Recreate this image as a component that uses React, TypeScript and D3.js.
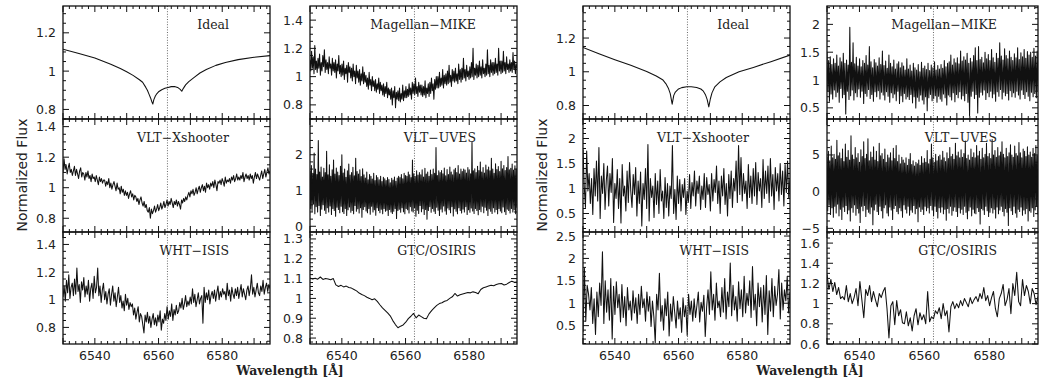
import React from "react";
import * as d3 from "d3";

const WAVE_MIN = 6530;
const WAVE_MAX = 6595;
const H_ALPHA = 6562.8;
const xTickLabels = [6540, 6560, 6580];

const panelTitles = ["Ideal", "Magellan\u2212MIKE", "VLT\u2212Xshooter", "VLT\u2212UVES", "WHT\u2212ISIS", "GTC/OSIRIS"];

// ---------- left group (higher S/N) ----------
const idealLeftWave = [6530, 6535, 6540, 6545, 6548, 6550, 6552, 6554, 6555, 6556, 6556.5, 6557, 6557.5, 6557.9, 6558.2, 6558.5, 6559, 6559.5, 6560, 6561, 6562, 6563, 6564, 6565, 6566, 6566.8, 6567.3, 6567.8, 6568.5, 6569.5, 6571, 6573, 6575, 6578, 6581, 6585, 6590, 6595];
const idealLeftFlux = [1.114, 1.092, 1.068, 1.036, 1.014, 0.997, 0.978, 0.955, 0.942, 0.915, 0.9, 0.88, 0.86, 0.84, 0.828, 0.85, 0.87, 0.883, 0.892, 0.903, 0.91, 0.915, 0.919, 0.92, 0.915, 0.905, 0.895, 0.91, 0.928, 0.945, 0.965, 0.99, 1.008, 1.03, 1.045, 1.06, 1.072, 1.081];

const mikeLeftFlux = [
  1.12, 1.04, 1.18, 1.06, 1.14, 1.02, 1.22, 1.05, 1.11, 1.03,
  1.13, 1.06, 1.16, 1.01, 1.1, 1.04, 1.15, 1.07, 1.19, 1.03,
  1.12, 1.05, 1.1, 1.02, 1.14, 1.06, 1.09, 1.01, 1.13, 1.04,
  1.1, 1.03, 1.12, 0.99, 1.09, 1.04, 1.15, 1.02, 1.08, 1.0,
  1.09, 1.01, 1.11, 0.98, 1.06, 1.02, 1.08, 0.96, 1.1, 1.03,
  1.07, 0.99, 1.06, 0.97, 1.09, 1.0, 1.04, 0.95, 1.08, 0.99,
  1.04, 0.96, 1.05, 0.94, 1.02, 0.97, 1.07, 0.95, 1.03, 0.96,
  1.01, 0.93, 0.99, 0.91, 1.03, 0.94, 0.98, 0.9, 1.0, 0.93,
  0.97, 0.9, 0.98, 0.89, 0.95, 0.91, 0.99, 0.88, 0.96, 0.9,
  0.94, 0.87, 0.95, 0.86, 0.93, 0.88, 0.96, 0.85, 0.92, 0.87,
  0.91, 0.84, 0.92, 0.8, 0.9, 0.85, 0.93, 0.78, 0.89, 0.84,
  0.9, 0.83, 0.92, 0.82, 0.88, 0.84, 0.94, 0.83, 0.9, 0.85,
  0.93, 0.85, 0.91, 0.86, 0.95, 0.87, 0.92, 0.84, 0.96, 0.88,
  0.95, 0.87, 0.99, 0.88, 0.93, 0.86, 0.96, 0.89, 0.94, 0.87,
  0.94, 0.86, 0.93, 0.87, 0.97, 0.85, 0.92, 0.88, 0.95, 0.86,
  0.96, 0.88, 0.99, 0.9, 0.95, 0.84, 0.98, 0.91, 1.0, 0.92,
  1.0, 0.92, 1.03, 0.93, 0.99, 0.94, 1.05, 0.92, 1.01, 0.95,
  1.02, 0.94, 1.04, 0.95, 1.08, 0.96, 1.01, 0.93, 1.05, 0.97,
  1.04, 0.96, 1.06, 0.97, 1.02, 0.95, 1.09, 0.98, 1.05, 0.96,
  1.06, 0.98, 1.13, 0.99, 1.05, 0.97, 1.08, 1.0, 1.04, 0.98,
  1.07, 0.99, 1.1, 1.0, 1.2, 0.98, 1.06, 1.01, 1.09, 0.99,
  1.08, 1.0, 1.11, 1.01, 1.07, 0.99, 1.12, 1.02, 1.06, 1.0,
  1.09, 1.01, 1.19, 1.02, 1.08, 1.0, 1.12, 1.03, 1.1, 1.01,
  1.1, 1.02, 1.13, 1.03, 1.09, 1.01, 1.2, 1.04, 1.11, 1.02,
  1.11, 1.03, 1.18, 1.04, 1.1, 1.02, 1.14, 1.05, 1.09, 1.03,
  1.12, 1.04, 1.1, 1.03, 1.17, 1.05, 1.11, 1.02, 1.09, 1.06,
];

const xshooterLeftFlux = [
  1.1, 1.19, 1.12, 1.15, 1.09, 1.13, 1.16, 1.1, 1.12, 1.08,
  1.11, 1.14, 1.08, 1.12, 1.09, 1.06, 1.11, 1.13, 1.07, 1.1,
  1.09, 1.05, 1.1, 1.07, 1.11, 1.06, 1.08, 1.04, 1.09, 1.06,
  1.07, 1.04, 1.08, 1.05, 1.02, 1.07, 1.04, 1.06, 1.03, 1.05,
  1.05, 1.01, 1.04, 1.02, 1.06, 1.0, 1.03, 0.99, 1.02, 1.04,
  1.01, 0.98, 1.03, 0.99, 1.0, 0.96, 1.01, 0.97, 0.99, 0.95,
  0.98, 0.95, 0.97, 0.93, 0.96, 0.98, 0.94, 0.96, 0.92, 0.95,
  0.94, 0.91, 0.93, 0.89, 0.92, 0.94, 0.9, 0.88, 0.91, 0.87,
  0.89, 0.85, 0.84, 0.87, 0.8, 0.86, 0.83, 0.85, 0.88, 0.84,
  0.86, 0.89, 0.85, 0.87, 0.9, 0.86, 0.88, 0.91, 0.87, 0.89,
  0.92, 0.88, 0.91, 0.89, 0.93, 0.9, 0.87, 0.91, 0.89, 0.92,
  0.88, 0.91, 0.89, 0.86, 0.92, 0.9, 0.93, 0.91, 0.94, 0.92,
  0.95, 0.97, 0.94, 0.98, 0.96, 0.99, 0.95, 0.97, 1.0, 0.96,
  0.99, 1.01, 0.97, 1.0, 1.02, 0.98, 1.01, 0.97, 1.03, 1.0,
  1.02, 0.99, 1.03, 1.01, 1.04, 1.0, 1.05, 1.02, 0.98, 1.04,
  1.03, 1.05, 1.02, 1.06, 1.04, 1.01, 1.07, 1.03, 1.05, 1.04,
  1.06, 1.03, 1.07, 1.05, 1.08, 1.04, 1.06, 1.09, 1.05, 1.07,
  1.05, 1.08, 1.06, 1.1, 1.04, 1.07, 1.09, 1.06, 1.08, 1.05,
  1.09, 1.06, 1.08, 1.03, 1.07, 1.1, 1.06, 1.09, 1.07, 1.05,
  1.08, 1.11, 1.06, 1.09, 1.12, 1.07, 1.1, 1.13, 1.09, 1.11,
];

const uvesLeftFlux = [
  1.55, 0.5, 1.7, 0.42, 1.48, 0.62, 2.05, 0.35, 1.6, 0.55,
  1.45, 0.4, 2.4, 0.58, 1.52, 0.3, 1.66, 0.48, 1.38, 0.6,
  1.62, 0.45, 1.5, 0.36, 2.1, 0.52, 1.44, 0.4, 1.72, 0.57,
  1.4, 0.33, 1.58, 0.5, 1.85, 0.44, 1.46, 0.28, 1.63, 0.53,
  1.52, 0.47, 1.42, 0.38, 1.68, 0.56, 2.0, 0.41, 1.49, 0.36,
  1.6, 0.5, 1.37, 0.3, 1.55, 0.46, 1.74, 0.54, 1.43, 0.39,
  1.5, 0.44, 1.65, 0.35, 1.41, 0.58, 1.9, 0.42, 1.53, 0.49,
  1.46, 0.37, 1.58, 0.52, 1.39, 0.25, 1.61, 0.47, 1.44, 0.55,
  1.35, 0.43, 1.52, 0.38, 1.3, 0.5, 1.45, 0.34, 1.4, 0.56,
  1.32, 0.4, 1.48, 0.46, 1.28, 0.31, 1.42, 0.52, 1.36, 0.44,
  1.3, 0.38, 1.4, 0.48, 1.25, 0.35, 1.37, 0.5, 1.33, 0.42,
  1.28, 0.45, 1.36, 0.3, 1.31, 0.47, 1.22, 0.4, 1.34, 0.36,
  1.29, 0.42, 1.38, 0.5, 1.26, 0.22, 1.35, 0.44, 1.4, 0.48,
  1.36, 0.39, 1.45, 0.52, 1.33, 0.41, 1.48, 0.35, 1.42, 0.5,
  1.4, 0.46, 1.52, 0.37, 1.44, 0.55, 1.36, 0.43, 1.85, 0.4,
  1.47, 0.52, 1.39, 0.28, 1.55, 0.45, 1.43, 0.36, 1.5, 0.58,
  1.44, 0.41, 1.58, 0.49, 1.38, 0.33, 1.62, 0.47, 1.46, 0.2,
  1.52, 0.44, 1.4, 0.55, 1.57, 0.39, 1.45, 0.5, 1.6, 0.42,
  1.48, 0.36, 2.2, 0.53, 1.42, 0.45, 1.55, 0.3, 1.5, 0.48,
  1.56, 0.4, 1.47, 0.57, 1.63, 0.43, 1.41, 0.34, 1.59, 0.51,
  1.45, 0.46, 1.66, 0.38, 1.52, 0.55, 1.44, 0.29, 1.58, 0.49,
  1.62, 0.42, 1.5, 0.35, 1.7, 0.52, 1.46, 0.44, 1.6, 0.37,
  1.53, 0.48, 1.6, 0.4, 1.57, 0.55, 1.49, 0.33, 1.64, 0.46,
  1.58, 0.39, 1.47, 0.51, 2.35, 0.43, 1.55, 0.36, 1.61, 0.5,
  1.5, 0.44, 1.68, 0.32, 1.56, 0.47, 1.8, 0.41, 1.52, 0.56,
  1.64, 0.38, 1.49, 0.53, 1.71, 0.45, 1.58, 0.3, 1.66, 0.49,
  1.55, 0.42, 1.9, 0.36, 1.6, 0.52, 1.48, 0.4, 1.75, 0.47,
  1.59, 0.35, 1.67, 0.5, 1.53, 0.43, 1.82, 0.38, 1.61, 0.54,
  1.7, 0.41, 1.56, 0.33, 1.64, 0.48, 1.95, 0.44, 1.58, 0.37,
  1.62, 0.5, 1.74, 0.4, 1.57, 0.46, 1.69, 0.35, 1.6, 0.52,
];

const whtLeftFlux = [
  1.02, 1.1, 0.99, 1.14, 1.05, 1.18, 1.01, 1.09, 1.12, 1.03,
  1.15, 1.04, 1.23, 1.06, 1.11, 0.98, 1.13, 1.07, 1.16, 1.02,
  1.1, 1.04, 1.14, 0.99, 1.08, 1.12, 1.01, 1.17, 1.05, 1.09,
  1.23, 1.03, 1.1, 0.98, 1.07, 1.12, 1.0, 1.06, 0.97, 1.04,
  1.08, 0.96, 1.04, 1.1, 0.99, 1.05, 0.95, 1.02, 1.09, 0.98,
  1.03, 0.94, 0.99, 0.92, 1.04, 0.96, 1.01, 0.93, 0.98, 0.95,
  0.97, 0.89, 0.94, 0.86, 0.91, 0.95, 0.84, 0.9, 0.88, 0.82,
  0.76, 0.89, 0.84, 0.91, 0.83, 0.88, 0.8, 0.86, 0.9, 0.82,
  0.87, 0.81, 0.89, 0.84, 0.92, 0.78, 0.86, 0.83, 0.9, 0.85,
  0.95, 0.86, 0.92, 0.88, 0.97, 0.85, 0.93, 0.89, 0.96, 0.9,
  0.92, 0.98, 0.94, 1.01, 0.93, 0.97, 1.03, 0.95, 0.99, 0.96,
  1.02, 0.97, 1.08, 0.98, 1.04, 0.95, 1.0, 1.05, 0.97, 1.01,
  1.03, 0.83, 1.09, 0.98, 1.05, 1.0, 1.07, 0.97, 1.03, 1.06,
  1.01, 1.07, 0.99, 1.05, 1.1, 1.0, 1.06, 1.02, 1.08, 1.04,
  1.06, 1.0, 1.12, 1.03, 1.07, 0.99, 1.09, 1.04, 1.01, 1.08,
  1.03, 1.09, 1.01, 1.06, 1.11, 1.02, 1.08, 1.04, 1.0, 1.07,
  1.1, 1.03, 1.08, 1.18, 1.04, 1.09, 1.02, 1.07, 1.12, 1.05,
  1.03, 1.1, 1.06, 1.14, 1.04, 1.09, 1.12, 1.06, 1.11, 1.08,
];

const gtcLeftFlux = [
  1.103, 1.098, 1.102, 1.097, 1.108, 1.096, 1.1, 1.098, 1.094, 1.1,
  1.068, 1.06, 1.066, 1.058, 1.062, 1.055, 1.052, 1.045, 1.038, 1.027,
  1.02, 1.014, 1.006, 1.0, 0.993, 0.998, 0.985, 0.968, 0.952, 0.94,
  0.927, 0.912, 0.888, 0.868, 0.852, 0.86, 0.866, 0.88, 0.898, 0.91,
  0.924, 0.902, 0.916, 0.908, 0.9, 0.897, 0.922, 0.938, 0.952, 0.965,
  0.974, 0.978, 0.986, 0.99, 1.0, 1.008, 1.025, 1.012, 1.018, 1.022,
  1.026, 1.03, 1.028, 1.033, 1.03, 1.024, 1.045, 1.054, 1.058, 1.062,
  1.066, 1.064, 1.07, 1.074, 1.075, 1.068, 1.072, 1.08, 1.087, 1.082,
  1.083,
];

// ---------- right group (lower S/N) ----------
const idealRightWave = [6530, 6535, 6540, 6545, 6550, 6553, 6555, 6556, 6556.8, 6557.4, 6558, 6558.5, 6559, 6560, 6561, 6562.6, 6564, 6565.7, 6567, 6567.8, 6568.5, 6569, 6569.5, 6570, 6570.5, 6571.4, 6573, 6575, 6579, 6583.5, 6589, 6595];
const idealRightFlux = [1.144, 1.107, 1.072, 1.038, 1.002, 0.975, 0.953, 0.93, 0.903, 0.87, 0.808, 0.86, 0.88, 0.898, 0.906, 0.911, 0.911, 0.907, 0.898, 0.885, 0.862, 0.835, 0.792, 0.84, 0.875, 0.911, 0.94, 0.966, 1.0, 1.026, 1.06, 1.099];

const mikeRightFlux = [
  1.5, 0.8, 1.35, 0.62, 1.42, 0.75, 1.28, 0.66, 1.38, 0.82,
  1.3, 0.7, 1.45, 0.78, 1.25, 0.6, 1.4, 0.85, 1.33, 0.68,
  1.48, 0.74, 1.3, 0.39, 1.36, 0.8, 1.27, 0.65, 1.95, 0.72,
  1.32, 0.82, 1.67, 0.64, 1.29, 0.77, 1.41, 0.7, 1.25, 0.84,
  1.38, 0.69, 1.24, 0.8, 1.35, 0.58, 1.3, 0.76, 1.44, 0.71,
  1.27, 0.83, 1.6, 0.67, 1.33, 0.74, 1.22, 0.62, 1.37, 0.79,
  1.31, 0.7, 1.25, 0.81, 1.4, 0.66, 1.28, 0.78, 1.52, 0.73,
  1.26, 0.64, 1.34, 0.79, 1.21, 0.71, 1.45, 0.6, 1.3, 0.77,
  1.24, 0.68, 1.36, 0.75, 1.2, 0.63, 1.29, 0.8, 1.33, 0.58,
  1.22, 0.72, 1.31, 0.61, 1.25, 0.76, 1.18, 0.66, 1.38, 0.7,
  1.2, 0.65, 1.27, 0.74, 1.16, 0.59, 1.3, 0.7, 1.22, 0.5,
  1.18, 0.69, 1.28, 0.62, 1.15, 0.73, 1.32, 0.64, 1.21, 0.57,
  1.25, 0.7, 1.19, 0.45, 1.3, 0.68, 1.17, 0.74, 1.27, 0.63,
  1.22, 0.67, 1.33, 0.72, 1.18, 0.6, 1.26, 0.71, 1.2, 0.66,
  1.28, 0.62, 1.21, 0.75, 1.35, 0.68, 1.24, 0.55, 1.3, 0.73,
  1.33, 0.7, 1.45, 0.64, 1.27, 0.77, 1.38, 0.61, 1.31, 0.74,
  1.4, 0.68, 1.29, 0.79, 1.52, 0.66, 1.34, 0.72, 1.42, 0.63,
  1.36, 0.76, 1.48, 0.6, 1.3, 0.36, 1.39, 0.71, 1.33, 0.8,
  1.44, 0.67, 1.58, 0.74, 1.35, 0.41, 1.6, 0.69, 1.37, 0.78,
  1.41, 0.73, 1.31, 0.82, 1.5, 0.65, 1.38, 0.77, 1.46, 0.7,
  1.35, 0.8, 1.55, 0.68, 1.4, 0.75, 1.32, 0.62, 1.48, 0.79,
  1.39, 0.71, 1.67, 0.83, 1.43, 0.66, 1.36, 0.78, 1.56, 0.72,
  1.44, 0.76, 1.38, 0.64, 1.52, 0.81, 1.41, 0.7, 1.35, 0.77,
  1.47, 0.69, 1.4, 0.8, 1.58, 0.73, 1.37, 0.66, 1.49, 0.82,
  1.42, 0.74, 1.55, 0.67, 1.39, 0.79, 1.51, 0.71, 1.45, 0.63,
  1.5, 0.78, 1.41, 0.7, 1.57, 0.76, 1.43, 0.68, 1.52, 0.8,
];

const xshooterRightFlux = [
  1.78, 1.05, 0.62, 1.75, 0.95, 1.3, 0.7, 1.2, 0.48, 1.4,
  0.85, 1.55, 0.75, 1.82, 0.4, 1.25, 0.9, 1.5, 0.58, 1.15,
  1.45, 0.65, 1.3, 0.92, 1.6, 0.32, 1.1, 0.8, 1.38, 0.6,
  1.2, 0.31, 1.48, 0.85, 1.05, 0.55, 1.35, 0.72, 1.52, 0.95,
  0.62, 1.28, 0.88, 1.42, 0.45, 1.15, 0.7, 1.33, 0.25, 1.1,
  0.78, 1.4, 0.6, 1.88, 0.35, 1.2, 0.82, 1.05, 0.42, 1.3,
  0.68, 1.15, 0.5, 1.38, 0.75, 0.95, 0.4, 1.22, 0.62, 1.1,
  0.45, 1.05, 0.8, 1.86, 0.5, 0.98, 0.38, 1.25, 0.7, 1.18,
  0.55, 1.08, 0.82, 1.2, 0.48, 0.95, 0.72, 1.28, 0.6, 1.12,
  0.85, 1.35, 0.65, 1.15, 0.9, 1.25, 0.58, 1.05, 0.78, 1.3,
  0.62, 1.22, 0.88, 1.08, 0.55, 1.3, 0.75, 1.18, 0.92, 1.45,
  0.7, 1.15, 0.5, 1.25, 0.85, 1.4, 0.68, 1.1, 0.45, 1.28,
  0.8, 1.35, 0.62, 1.2, 0.95, 1.55, 0.72, 1.86, 0.88, 1.62,
  0.75, 1.3, 0.9, 1.15, 0.6, 1.48, 0.82, 1.25, 0.7, 1.4,
  0.85, 1.52, 0.68, 1.32, 0.95, 1.2, 0.62, 1.58, 0.8, 1.35,
  0.9, 1.45, 0.72, 1.6, 0.85, 1.28, 0.58, 1.42, 0.95, 1.3,
  0.75, 1.5, 0.88, 1.35, 0.65, 1.48, 0.92, 1.55, 0.8, 1.2,
];

const uvesRightFlux = [
  4.8, -2.6, 5.5, -1.8, 4.2, -3.1, 6.2, -2.2, 4.6, -3.5,
  5.1, -2.0, 4.4, -2.9, 7.0, -1.7, 4.9, -3.3, 5.3, -2.4,
  4.5, -3.8, 5.8, -2.1, 4.1, -2.7, 6.5, -1.9, 4.7, -3.0,
  5.6, -2.5, 4.3, -4.0, 7.6, -2.2, 5.0, -2.8, 4.4, -1.8,
  6.0, -3.2, 4.6, -2.3, 5.2, -2.9, 4.0, -4.2, 5.7, -2.0,
  4.8, -2.6, 6.8, -1.9, 4.5, -3.4, 5.1, -2.4, 7.2, -2.8,
  4.2, -3.0, 5.4, -2.1, 4.7, -4.5, 6.1, -2.5, 4.3, -1.7,
  5.5, -2.7, 4.1, -3.1, 6.6, -2.0, 4.9, -2.6, 5.2, -3.6,
  4.4, -2.2, 5.8, -1.8, 4.0, -2.9, 5.0, -3.3, 4.6, -2.1,
  5.3, -2.5, 4.2, -3.8, 5.9, -2.3, 4.5, -1.9, 6.3, -2.7,
  4.1, -3.0, 5.0, -2.2, 3.8, -2.6, 4.7, -3.5, 4.3, -1.8,
  3.9, -2.4, 4.6, -2.9, 3.6, -2.0, 4.4, -3.2, 5.2, -2.5,
  3.7, -2.8, 4.2, -1.9, 3.5, -3.0, 4.0, -2.3, 3.8, -4.1,
  4.3, -2.1, 3.6, -2.7, 4.8, -2.4, 3.9, -3.1, 4.5, -2.0,
  4.0, -2.6, 5.6, -2.2, 3.8, -2.9, 4.4, -1.9, 6.5, -2.5,
  4.6, -3.3, 4.0, -2.0, 5.1, -2.7, 4.2, -3.6, 4.8, -2.2,
  5.0, -2.8, 4.3, -2.1, 5.5, -3.0, 4.6, -2.4, 4.1, -3.9,
  5.3, -2.3, 4.5, -2.9, 6.0, -2.0, 4.8, -3.2, 5.1, -2.6,
  4.4, -2.1, 6.6, -2.7, 4.9, -3.4, 5.4, -2.2, 4.6, -2.9,
  5.7, -2.4, 4.7, -3.1, 5.2, -2.0, 6.9, -2.8, 4.5, -3.7,
  5.0, -2.6, 4.3, -2.1, 5.8, -3.3, 4.7, -2.4, 5.3, -2.9,
  4.6, -3.0, 6.3, -2.2, 4.9, -2.7, 5.5, -4.4, 4.4, -2.3,
  5.9, -2.5, 4.6, -3.1, 5.1, -2.0, 6.6, -2.6, 4.8, -3.4,
  5.2, -2.8, 4.5, -2.2, 7.1, -2.9, 5.0, -2.4, 5.6, -3.6,
  4.7, -2.1, 6.0, -3.0, 4.9, -2.5, 5.4, -2.0, 6.8, -2.7,
  5.1, -3.3, 4.6, -2.3, 5.9, -2.8, 4.8, -4.6, 5.3, -2.2,
  6.4, -2.6, 5.0, -3.1, 4.7, -2.0, 6.2, -2.9, 5.2, -3.5,
  4.9, -2.4, 6.7, -2.7, 5.3, -2.1, 4.6, -3.2, 5.8, -2.5,
  5.5, -3.0, 4.8, -2.3, 6.1, -4.0, 5.0, -2.6, 5.4, -2.8,
  4.7, -2.2, 5.9, -3.4, 5.2, -2.5, 6.3, -2.0, 4.9, -3.1,
];

const whtRightFlux = [
  0.35, 1.78, 0.6, 1.4, 1.2, 0.85, 1.35, 0.55, 1.1, 0.3,
  1.25, 0.7, 1.45, 0.95, 2.15, 0.55, 1.5, 0.8, 1.3, 0.62,
  1.55, 0.2, 1.38, 0.75, 1.48, 0.9, 1.2, 0.58, 1.42, 0.68,
  1.15, 0.5, 1.35, 0.85, 1.05, 0.62, 1.28, 0.78, 1.12, 0.55,
  1.2, 0.75, 1.38, 0.9, 1.1, 0.6, 1.25, 0.82, 1.15, 0.48,
  1.05, 0.7, 0.12, 1.2, 0.85, 1.67, 0.6, 0.95, 0.4, 1.1,
  0.72, 1.25, 0.27, 0.98, 0.6, 1.15, 0.8, 0.45, 1.05, 0.65,
  0.9, 0.35, 1.12, 0.7, 0.95, 0.28, 1.2, 0.75, 1.05, 0.6,
  1.1, 0.68, 0.95, 1.25, 0.58, 1.02, 0.82, 1.18, 0.26, 0.92,
  1.3, 0.75, 1.7, 0.85, 1.2, 0.62, 1.45, 0.9, 1.05, 0.7,
  1.35, 0.8, 1.55, 0.65, 1.25, 0.92, 1.9, 0.72, 1.4, 0.85,
  1.15, 0.6, 1.48, 0.88, 1.3, 0.7, 1.6, 0.78, 1.22, 0.95,
  1.5, 0.68, 1.82, 0.85, 1.2, 0.5, 1.45, 0.92, 1.35, 0.58,
  1.4, 0.75, 1.62, 0.3, 1.28, 0.82, 1.55, 0.7, 1.38, 0.95,
  1.2, 1.75, 0.65, 1.45, 0.85, 1.3, 1.05, 1.6, 0.78, 1.25,
];

const gtcRightFlux = [
  1.29, 1.14, 1.24, 1.12, 1.21, 1.09, 1.16, 1.05, 1.07, 1.04,
  1.18, 1.02, 1.1, 1.0, 1.06, 1.15, 0.98, 1.22, 1.04, 0.86,
  1.14, 1.08, 1.18, 1.02, 1.12, 1.04, 0.97, 1.1, 1.06, 1.12,
  1.16, 0.95, 0.66, 0.98, 1.02, 0.79, 1.03, 0.88, 0.94, 0.81,
  0.8, 0.92, 0.78, 0.86, 0.73, 0.88, 0.95, 0.79, 0.91, 0.84,
  0.89, 0.8, 1.12, 0.82, 0.87, 0.85, 0.93, 0.9, 0.96, 0.85,
  1.0, 0.88, 0.93, 0.72, 0.97, 1.02, 0.95, 1.0, 0.96, 1.03,
  0.98, 1.05, 1.01, 0.97, 1.06, 1.0, 1.04, 1.07, 1.02, 1.1,
  1.05, 1.16, 1.03, 1.08, 0.98, 1.06, 1.12, 0.95, 0.87, 1.05,
  1.1, 1.19, 0.98, 1.04, 1.15, 0.9, 1.2, 1.08, 1.31, 1.02,
  0.98, 1.24, 1.08, 1.18, 1.12, 1.0, 1.15, 1.1, 0.99, 1.07,
];

// ---------- layout ----------
const COLS: [number, number][] = [[63, 270], [310, 517], [583, 790], [827, 1038]];
const ROWS: [number, number][] = [[6, 119], [119, 232], [232, 344]];

type Panel = {
  title: string;
  col: number;
  row: number;
  wave?: number[];
  flux: number[];
  yDomain: [number, number];
  yTicks: number[];
  yMinorStep: number;
};

const fmtTick = (v: number) => (v < 0 ? "\u2212" + Math.abs(v) : String(+v.toFixed(2)));

const panels: Panel[] = [
  { title: panelTitles[0], col: 0, row: 0, wave: idealLeftWave, flux: idealLeftFlux, yDomain: [0.75, 1.34], yTicks: [0.8, 1, 1.2], yMinorStep: 0.05 },
  { title: panelTitles[1], col: 1, row: 0, flux: mikeLeftFlux, yDomain: [0.7, 1.5], yTicks: [0.8, 1, 1.2, 1.4], yMinorStep: 0.05 },
  { title: panelTitles[2], col: 0, row: 1, flux: xshooterLeftFlux, yDomain: [0.71, 1.45], yTicks: [0.8, 1, 1.2, 1.4], yMinorStep: 0.05 },
  { title: panelTitles[3], col: 1, row: 1, flux: uvesLeftFlux, yDomain: [-0.16, 3.0], yTicks: [0, 1, 2], yMinorStep: 0.2 },
  { title: panelTitles[4], col: 0, row: 2, flux: whtLeftFlux, yDomain: [0.68, 1.49], yTicks: [0.8, 1, 1.2, 1.4], yMinorStep: 0.05 },
  { title: panelTitles[5], col: 1, row: 2, flux: gtcLeftFlux, yDomain: [0.77, 1.335], yTicks: [0.8, 0.9, 1, 1.1, 1.2, 1.3], yMinorStep: 0.02 },
  { title: panelTitles[0], col: 2, row: 0, wave: idealRightWave, flux: idealRightFlux, yDomain: [0.72, 1.39], yTicks: [0.8, 1, 1.2], yMinorStep: 0.05 },
  { title: panelTitles[1], col: 3, row: 0, flux: mikeRightFlux, yDomain: [0.3, 2.33], yTicks: [0.5, 1, 1.5, 2], yMinorStep: 0.1 },
  { title: panelTitles[2], col: 2, row: 1, flux: xshooterRightFlux, yDomain: [0.13, 2.39], yTicks: [0.5, 1, 1.5, 2], yMinorStep: 0.1 },
  { title: panelTitles[3], col: 3, row: 1, flux: uvesRightFlux, yDomain: [-5.5, 9.9], yTicks: [-5, 0, 5], yMinorStep: 1 },
  { title: panelTitles[4], col: 2, row: 2, flux: whtRightFlux, yDomain: [0.09, 2.59], yTicks: [0.5, 1, 1.5, 2, 2.5], yMinorStep: 0.1 },
  { title: panelTitles[5], col: 3, row: 2, flux: gtcRightFlux, yDomain: [0.6, 1.71], yTicks: [0.6, 0.8, 1, 1.2, 1.4, 1.6], yMinorStep: 0.05 },
];

const TICK_FONT = "'DejaVu Sans', sans-serif";
const SERIF = "'DejaVu Serif', serif";

function PanelView({ p, idx }: { p: Panel; idx: number }) {
  const [x0, x1] = COLS[p.col];
  const [y0, y1] = ROWS[p.row];
  const x = d3.scaleLinear().domain([WAVE_MIN, WAVE_MAX]).range([x0, x1]);
  const y = d3.scaleLinear().domain(p.yDomain).range([y1, y0]);
  const n = p.flux.length;
  const wave = p.wave ?? p.flux.map((_, i) => WAVE_MIN + (i * (WAVE_MAX - WAVE_MIN)) / (n - 1));
  const line = d3
    .line<number>()
    .x((_, i) => x(wave[i]))
    .y((d) => y(d));
  const clipId = `clip-${idx}`;

  const xMajor = d3.range(6530, 6596, 10);
  const xMinor = d3.range(6530, 6596, 2).filter((v) => v % 10 !== 0);
  const yMinor = d3
    .range(Math.ceil(p.yDomain[0] / p.yMinorStep) * p.yMinorStep, p.yDomain[1], p.yMinorStep)
    .filter((v) => !p.yTicks.some((t) => Math.abs(t - v) < 1e-6));
  const MAJ = 6;
  const MIN = 3;

  return (
    <g>
      <defs>
        <clipPath id={clipId}>
          <rect x={x0} y={y0} width={x1 - x0} height={y1 - y0} />
        </clipPath>
      </defs>
      <line x1={x(H_ALPHA)} x2={x(H_ALPHA)} y1={y0} y2={y1} stroke="#444" strokeWidth={0.8} strokeDasharray="1,1.6" />
      <path d={line(p.flux) ?? ""} fill="none" stroke="#111" strokeWidth={1.05} strokeLinejoin="round" clipPath={`url(#${clipId})`} />
      <g stroke="#111" strokeWidth={1}>
        {xMajor.map((v) => (
          <g key={"xM" + v}>
            <line x1={x(v)} x2={x(v)} y1={y1} y2={y1 - MAJ} />
            <line x1={x(v)} x2={x(v)} y1={y0} y2={y0 + MAJ} />
          </g>
        ))}
        {xMinor.map((v) => (
          <g key={"xm" + v}>
            <line x1={x(v)} x2={x(v)} y1={y1} y2={y1 - MIN} />
            <line x1={x(v)} x2={x(v)} y1={y0} y2={y0 + MIN} />
          </g>
        ))}
        {p.yTicks.map((v) => (
          <g key={"yM" + v}>
            <line x1={x0} x2={x0 + MAJ} y1={y(v)} y2={y(v)} />
            <line x1={x1} x2={x1 - MAJ} y1={y(v)} y2={y(v)} />
          </g>
        ))}
        {yMinor.map((v) => (
          <g key={"ym" + v}>
            <line x1={x0} x2={x0 + MIN} y1={y(v)} y2={y(v)} />
            <line x1={x1} x2={x1 - MIN} y1={y(v)} y2={y(v)} />
          </g>
        ))}
      </g>
      <rect x={x0} y={y0} width={x1 - x0} height={y1 - y0} fill="none" stroke="#111" strokeWidth={1.3} />
      {p.yTicks.map((v) => (
        <text key={"yl" + v} x={x0 - 7} y={y(v)} dy="0.36em" textAnchor="end" fontFamily={TICK_FONT} fontSize={12.5} fill="#222">
          {fmtTick(v)}
        </text>
      ))}
      {p.row === 2 &&
        xTickLabels.map((v) => (
          <text key={"xl" + v} x={x(v)} y={y1 + 16} textAnchor="middle" fontFamily={TICK_FONT} fontSize={12.5} fill="#222">
            {v}
          </text>
        ))}
      <text x={x1 - 41} y={y0 + 22.5} textAnchor="end" fontFamily={SERIF} fontSize={12.5} fill="#222">
        {p.title}
      </text>
    </g>
  );
}

export default function App() {
  return (
    <svg width={1040} height={385} style={{ position: "absolute", left: 0, top: 0, background: "#fff" }}>
      <rect x={0} y={0} width={1040} height={385} fill="#fff" />
      {panels.map((p, i) => (
        <PanelView key={i} p={p} idx={i} />
      ))}
      {[22, 542].map((cx) => (
        <text key={"yt" + cx} transform={`translate(${cx},175) rotate(-90)`} textAnchor="middle" dy="0.36em" fontFamily={TICK_FONT} fontSize={14} fill="#222">
          Normalized Flux
        </text>
      ))}
      {[290, 810].map((cx) => (
        <text key={"xt" + cx} x={cx} y={375} textAnchor="middle" fontFamily={SERIF} fontSize={12.5} fontWeight="bold" fill="#222">
          Wavelength [Å]
        </text>
      ))}
    </svg>
  );
}
